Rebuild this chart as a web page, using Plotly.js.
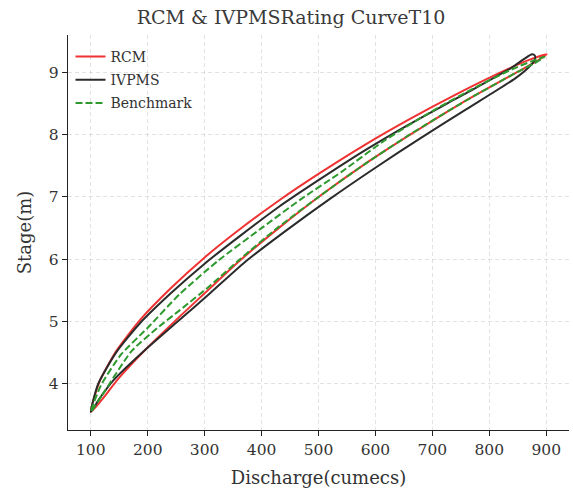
<!DOCTYPE html>
<html>
<head>
<meta charset="utf-8">
<script src="https://cdn.plot.ly/plotly-3.0.1.min.js"></script>
<style>html,body{margin:0;padding:0;background:#fff;}#chart{width:573px;height:488px;}</style>
</head>
<body>
<div id="chart"></div>
<script>
// RCM loop: lower limb up to the peak, then upper limb back to the start
const rcmQ = [100,118,150,195,256,310,362,430,503,580,661,750,848,885,901, 870,820,740,660,580,500,430,360,300,240,186,145,115,100];
const rcmH = [3.55,3.73,4.1,4.54,5.08,5.54,5.98,6.5,7.02,7.52,8.0,8.5,9.0,9.19,9.29, 9.2,9.0,8.64,8.25,7.83,7.37,6.94,6.47,6.03,5.53,5.02,4.53,4.03,3.55];

// IVPMS loop
const ivpmsQ = [100,115,140,190,250,310,370,440,520,600,680,760,845,868,880,880,875, 862,840,800,740,660,580,500,430,360,300,240,186,145,113,100];
const ivpmsH = [3.55,3.76,4.06,4.5,4.98,5.46,5.95,6.44,6.97,7.47,7.95,8.41,8.9,9.07,9.2,9.27,9.29, 9.22,9.08,8.87,8.57,8.17,7.74,7.27,6.84,6.36,5.93,5.45,4.97,4.51,4.0,3.55];

// Benchmark loop
const benchQ = [100,120,172,220,256,310,362,430,503,580,660,750,848,880,897, 875,840,780,700,615,540,470,400,324,256,200,154,118,100];
const benchH = [3.55,3.82,4.53,4.92,5.18,5.58,6.0,6.52,7.02,7.52,8.0,8.5,9.0,9.15,9.25, 9.18,9.05,8.78,8.38,7.9,7.4,6.97,6.5,5.98,5.44,4.9,4.48,3.98,3.55];

const xTicks = [100,200,300,400,500,600,700,800,900];
const yTicks = [4,5,6,7,8,9];

const serif = '"DejaVu Serif", "Liberation Serif", serif';

const traces = [
  {x: rcmQ, y: rcmH, name: 'RCM', legendgroup: 'a', mode: 'lines', line: {color: '#f03232', width: 2, shape: 'spline', smoothing: 0.6}},
  {x: ivpmsQ, y: ivpmsH, name: 'IVPMS', legendgroup: 'b', mode: 'lines', line: {color: '#2b2b2b', width: 2, shape: 'spline', smoothing: 0.6}},
  {x: benchQ, y: benchH, name: 'Benchmark', legendgroup: 'c', mode: 'lines', line: {color: '#2e9a2e', width: 2, dash: '7px,3px', shape: 'spline', smoothing: 0.6}}
];

const grid = 'rgba(175,175,175,0.35)';
const layout = {
  width: 573, height: 488,
  margin: {l: 68, r: 4, t: 35, b: 58},
  paper_bgcolor: '#ffffff', plot_bgcolor: '#ffffff',
  font: {family: serif, color: '#333', size: 15},
  title: {text: 'RCM &amp; IVPMSRating CurveT10', font: {family: serif, size: 19, color: '#3a3a3a'}, x: 0.508, xref: 'container', xanchor: 'center', y: 0.965, yanchor: 'middle'},
  xaxis: {
    range: [60, 940], tickvals: xTicks, ticktext: xTicks.map(String),
    showline: true, linecolor: '#222', linewidth: 1.2, mirror: false,
    ticks: 'outside', ticklen: 5, tickcolor: '#222',
    showgrid: true, gridcolor: grid, griddash: '4px,3px', gridwidth: 1,
    zeroline: false, tickfont: {size: 15.5, color: '#333'},
    title: {text: 'Discharge(cumecs)', font: {size: 18, color: '#333'}, standoff: 13}
  },
  yaxis: {
    range: [3.26, 9.6], tickvals: yTicks, ticktext: yTicks.map(String),
    showline: true, linecolor: '#222', linewidth: 1.2, mirror: false,
    ticks: 'outside', ticklen: 5, tickcolor: '#222',
    showgrid: true, gridcolor: grid, griddash: '4px,3px', gridwidth: 1,
    zeroline: false, tickfont: {size: 15.5, color: '#333'},
    title: {text: 'Stage(m)', font: {size: 18, color: '#333'}, standoff: 12}
  },
  legend: {x: 0.005, y: 0.985, xanchor: 'left', yanchor: 'top', bgcolor: 'rgba(255,255,255,0)', borderwidth: 0,
           font: {size: 14, color: '#333'}, tracegroupgap: 2},
  showlegend: true
};

Plotly.newPlot('chart', traces, layout, {displayModeBar: false, staticPlot: true});
</script>
</body>
</html>
